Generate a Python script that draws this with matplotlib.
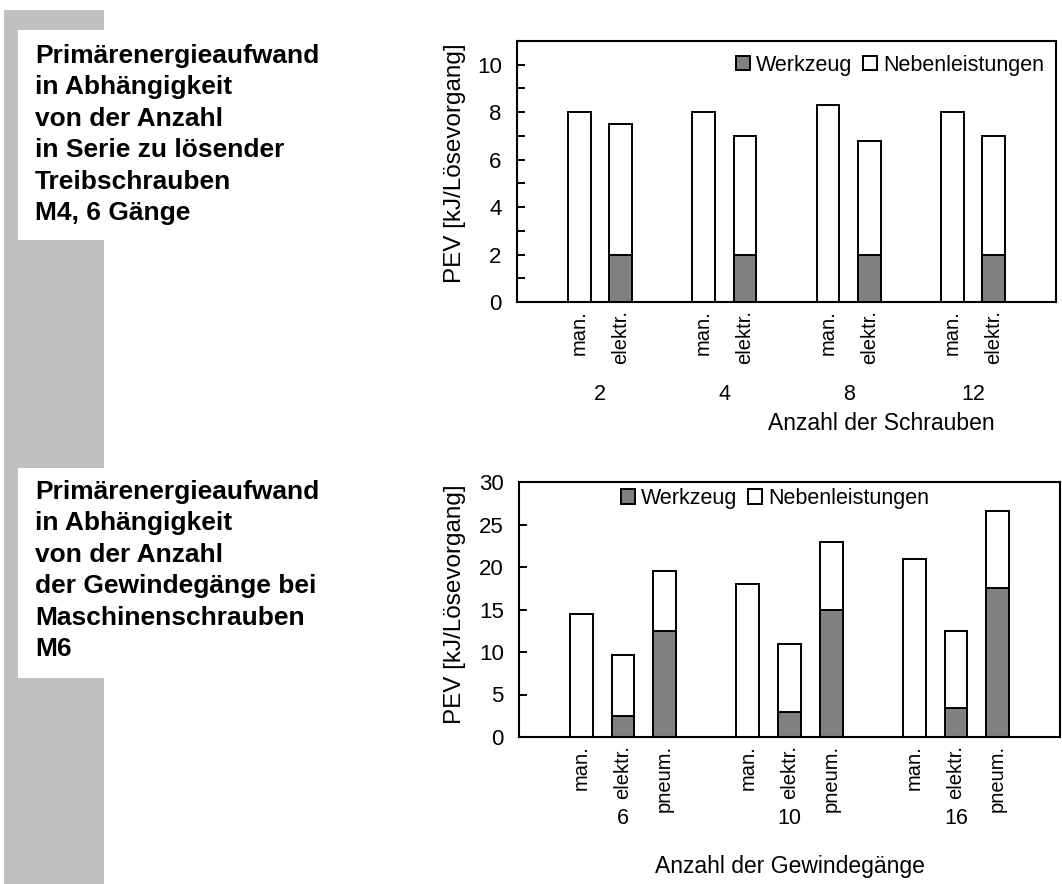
import matplotlib.pyplot as plt
from matplotlib.patches import Rectangle, Patch
from matplotlib.ticker import MultipleLocator

plt.rcParams['font.family'] = ['Liberation Sans', 'DejaVu Sans']

# upper chart: screws in series
top_groups = ['2', '4', '8', '12']
top_methods = ['man.', 'elektr.']
top_werkzeug = [0, 2, 0, 2, 0, 2, 0, 2]
top_neben = [8, 5.5, 8, 5, 8.3, 4.8, 8, 5]

# lower chart: number of thread turns
bot_groups = ['6', '10', '16']
bot_methods = ['man.', 'elektr.', 'pneum.']
bot_werkzeug = [0, 2.5, 12.5, 0, 3, 15, 0, 3.4, 17.5]
bot_neben = [14.5, 7.1, 7.0, 18, 8, 8, 21, 9.1, 9.1]

W, H = 1062, 884
fig = plt.figure(figsize=(W / 100, H / 100), dpi=100)


def px(x0, y0, x1, y1):
    # pixel box -> figure fraction [left, bottom, width, height]
    return [x0 / W, 1 - y1 / H, (x1 - x0) / W, (y1 - y0) / H]


# grey column with the two white text boxes
for box, col in [((4, 10, 104, 884), '#c0c0c0'),
                 ((18, 30, 420, 240), 'white'),
                 ((18, 468, 420, 678), 'white')]:
    l, b, w, h = px(*box)
    fig.patches.append(Rectangle((l, b), w, h, transform=fig.transFigure,
                                 facecolor=col, edgecolor='none', zorder=0))

fig.text(35 / W, 1 - 44 / H,
         'Primärenergieaufwand\nin Abhängigkeit\nvon der Anzahl\n'
         'in Serie zu lösender\nTreibschrauben\nM4, 6 Gänge',
         fontsize=19, fontweight='bold', va='top', ha='left', linespacing=1.39)
fig.text(35 / W, 1 - 480 / H,
         'Primärenergieaufwand\nin Abhängigkeit\nvon der Anzahl\n'
         'der Gewindegänge bei\nMaschinenschrauben\nM6',
         fontsize=19, fontweight='bold', va='top', ha='left', linespacing=1.39)


def draw(ax, groups, methods, werkzeug, neben, ymax, major, minor,
         xlabel, xlabel_x, grp_y, xlabel_y, ylabel_pos, legend_anchor):
    n = len(methods)
    stride = n + 1
    pos, labels = [], []
    for g in range(len(groups)):
        for m in range(n):
            pos.append(1 + g * stride + m)
            labels.append(methods[m])
    ax.bar(pos, werkzeug, width=0.55, color='#808080', edgecolor='black',
           linewidth=1.4, zorder=2)
    ax.bar(pos, neben, bottom=werkzeug, width=0.55, color='white',
           edgecolor='black', linewidth=1.4, zorder=2)
    ax.set_xlim(-0.5, len(groups) * stride + 0.5)
    ax.set_ylim(0, ymax)
    ax.yaxis.set_major_locator(MultipleLocator(major))
    ax.yaxis.set_minor_locator(MultipleLocator(minor))
    ax.tick_params(axis='y', which='both', direction='in', length=6,
                   width=1.4, labelsize=16, pad=11)
    ax.set_xticks(pos)
    ax.set_xticklabels(labels, rotation=90, fontsize=14.5)
    ax.tick_params(axis='x', length=0, pad=6)
    for s in ax.spines.values():
        s.set_linewidth(1.5)
    tr = ax.get_xaxis_transform()
    for g, name in enumerate(groups):
        ax.text(1 + g * stride + (n - 1) / 2, grp_y, name, transform=tr,
                ha='center', va='center', fontsize=15.5)
    ax.text(xlabel_x, xlabel_y, xlabel, transform=ax.transAxes,
            ha='center', va='center', fontsize=16.5)
    ax.set_ylabel('PEV [kJ/Lösevorgang]', fontsize=17.5)
    ax.yaxis.set_label_coords(*ylabel_pos)
    handles = [Patch(facecolor='#808080', edgecolor='black', linewidth=1.4,
                     label='Werkzeug'),
               Patch(facecolor='white', edgecolor='black', linewidth=1.4,
                     label='Nebenleistungen')]
    ax.legend(handles=handles, ncol=2, frameon=False, fontsize=15.5,
              loc='upper right', bbox_to_anchor=legend_anchor,
              handlelength=0.65, handleheight=0.65, handletextpad=0.3,
              columnspacing=0.5, borderaxespad=0)


ax1 = fig.add_axes(px(517, 41, 1056, 302))
draw(ax1, top_groups, top_methods, top_werkzeug, top_neben, 11, 2, 1,
     'Anzahl der Schrauben', 0.675, -0.356, -0.464, (-0.095, 0.53),
     (0.995, 0.98))

ax2 = fig.add_axes(px(519, 482, 1060, 737))
draw(ax2, bot_groups, bot_methods, bot_werkzeug, bot_neben, 30, 5, 5,
     'Anzahl der Gewindegänge', 0.5, -0.318, -0.506, (-0.098, 0.52),
     (0.775, 1.01))

fig.savefig('out.png', dpi=100)
